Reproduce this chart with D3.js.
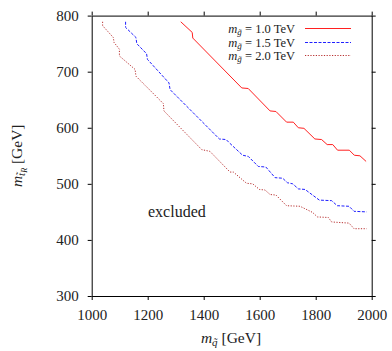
<!DOCTYPE html>
<html lang="en">
<head>
<meta charset="UTF-8">
<script src="https://cdn.jsdelivr.net/npm/d3@7"></script>
<style>
  body { margin: 0; background: #fff; }
  svg text { font-family: "Liberation Serif", "Times New Roman", serif; fill: #222; }
</style>
</head>
<body>
<svg id="main" width="392" height="351"></svg>
<script>
// tick values
const xTicks = [1000, 1200, 1400, 1600, 1800, 2000];
const yTicks = [300, 400, 500, 600, 700, 800];

// exclusion contours [m_squark, m_stop]
const gluino10 = [[1318,789],[1359,770],[1361,760],[1536,671],[1559,670],[1637,630],[1658,629],[1696,610],[1720,610],[1738,600],[1758,599],[1797,580],[1821,579],[1841,570],[1861,570],[1878,560],[1920,560],[1938,551],[1958,550],[1980,540]];
const gluino15 = [[1121,789],[1121,779],[1158,761],[1161,750],[1196,732],[1199,722],[1276,680],[1280,668],[1456,580],[1480,579],[1494,572],[1539,551],[1559,549],[1595,531],[1622,530],[1655,511],[1682,510],[1699,502],[1718,500],[1738,491],[1762,490],[1813,471],[1857,470],[1877,461],[1919,460],[1937,451],[1982,450]];
const gluino20 = [[1039,789],[1039,782],[1077,761],[1080,752],[1099,740],[1099,728],[1155,704],[1158,692],[1256,643],[1258,630],[1393,561],[1422,558],[1494,521],[1506,521],[1553,501],[1575,500],[1599,490],[1619,489],[1637,481],[1658,480],[1696,461],[1744,460],[1789,449],[1806,441],[1845,440],[1857,432],[1919,430],[1937,420],[1982,420]];
const legendLabels = ["1.0", "1.5", "2.0"];

const series = [
  {data: gluino10, color: "#ff2020", dash: null},
  {data: gluino15, color: "#2020ff", dash: "3,1.5"},
  {data: gluino20, color: "#b83030", dash: "1.2,1.5"}
];

const serif = '"Liberation Serif", "Times New Roman", serif';
const svg = d3.select("#main");
const x = d3.scaleLinear().domain([1000, 2000]).range([91.7, 371.7]);
const y = d3.scaleLinear().domain([300, 800]).range([296, 15.6]);

// frame with outward ticks on all four sides
const axes = [
  [d3.axisBottom(x).tickValues(xTicks), `translate(0,${y(300)})`, true],
  [d3.axisTop(x).tickValues(xTicks), `translate(0,${y(800)})`, false],
  [d3.axisLeft(y).tickValues(yTicks), `translate(${x(1000)},0)`, true],
  [d3.axisRight(y).tickValues(yTicks), `translate(${x(2000)},0)`, false]
];
axes.forEach(([ax, tr, showLabels]) => {
  const g = svg.append("g").attr("transform", tr)
    .call(ax.tickFormat(d3.format("d")).tickSizeInner(4).tickSizeOuter(0).tickPadding(9));
  g.attr("font-family", serif).attr("font-size", 15);
  g.select(".domain").attr("stroke", "#000").attr("stroke-width", 1);
  g.selectAll(".tick line").attr("stroke", "#000");
  g.selectAll(".tick text").attr("fill", "#222")
    .style("display", showLabels ? null : "none");
});

const line = d3.line().x(d => x(d[0])).y(d => y(d[1]));
series.forEach(s => {
  svg.append("path")
    .datum(s.data)
    .attr("d", line)
    .attr("fill", "none")
    .attr("stroke", s.color)
    .attr("stroke-width", 1)
    .attr("stroke-dasharray", s.dash);
});

// legend
const leg = svg.append("g");
legendLabels.forEach((lab, i) => {
  const ly = Math.round(28 + i * 13.6) + 0.5;
  const t = leg.append("text").attr("x", 295).attr("y", ly + 4)
    .attr("text-anchor", "end").attr("font-size", 12.5);
  t.append("tspan").attr("font-style", "italic").text("m");
  t.append("tspan").attr("font-style", "italic").attr("font-size", 9).attr("dy", 2.2).text("g\u0303");
  t.append("tspan").attr("dy", -2.2).text(" = " + lab + " TeV");
  leg.append("line")
    .attr("x1", 305).attr("x2", 351).attr("y1", ly).attr("y2", ly)
    .attr("stroke", series[i].color).attr("stroke-width", 1)
    .attr("stroke-dasharray", series[i].dash);
});

svg.append("text").attr("x", 148).attr("y", 217)
  .attr("font-size", 16).text("excluded");

// axis titles
const xt = svg.append("text").attr("x", 231).attr("y", 343)
  .attr("text-anchor", "middle").attr("font-size", 15.5);
xt.append("tspan").attr("font-style", "italic").text("m");
xt.append("tspan").attr("font-style", "italic").attr("font-size", 11).attr("dy", 3).text("q\u0303");
xt.append("tspan").attr("dy", -3).text(" [GeV]");

const yt = svg.append("text")
  .attr("transform", `translate(22,${(y(300) + y(800)) / 2}) rotate(-90)`)
  .attr("text-anchor", "middle").attr("font-size", 15.5);
yt.append("tspan").attr("font-style", "italic").text("m");
yt.append("tspan").attr("font-style", "italic").attr("font-size", 11).attr("dy", 3).text("t\u0303");
yt.append("tspan").attr("font-style", "italic").attr("font-size", 8).attr("dy", 2).text("R");
yt.append("tspan").attr("dy", -5).text(" [GeV]");
</script>
</body>
</html>
